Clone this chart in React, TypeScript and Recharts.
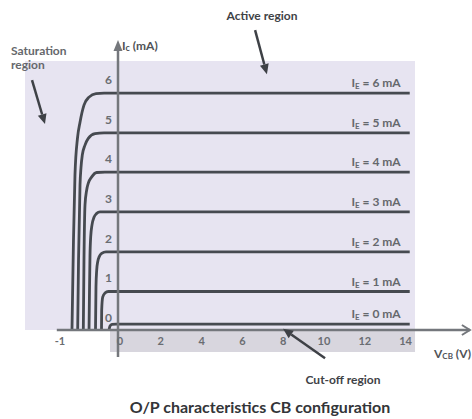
import React from 'react';
import { LineChart, Line, XAxis, YAxis, ReferenceArea, ReferenceLine, LabelList } from 'recharts';

// ---------------- data (volts, mA) ----------------
const X_TICK_VALUES = [-1, 0, 2, 4, 6, 8, 10, 12, 14];
const Y_TICK_VALUES = [0, 1, 2, 3, 4, 5, 6];

const V_END = 14.3;

const CURVE_IE6_V = [-0.767, -0.742, -0.717, -0.675, -0.633, -0.567, -0.483, -0.367, -0.233, V_END];
const CURVE_IE6_IC = [0, 2.27, 3.91, 4.84, 5.24, 5.67, 5.87, 5.96, 5.97, 5.97];

const CURVE_IE5_V = [-0.672, -0.658, -0.633, -0.617, -0.595, -0.55, -0.495, -0.383, -0.233, V_END];
const CURVE_IE5_IC = [0, 1.76, 3.66, 4.09, 4.41, 4.66, 4.83, 4.95, 4.97, 4.97];

const CURVE_IE4_V = [-0.578, -0.567, -0.55, -0.522, -0.495, -0.438, -0.355, -0.217, V_END];
const CURVE_IE4_IC = [0, 1.76, 3.15, 3.53, 3.7, 3.86, 3.97, 3.98, 3.98];

const CURVE_IE3_V = [-0.483, -0.475, -0.467, -0.455, -0.433, -0.4, -0.355, -0.3, V_END];
const CURVE_IE3_IC = [0, 1.01, 1.85, 2.35, 2.65, 2.84, 2.94, 2.98, 2.98];

const CURVE_IE2_V = [-0.375, -0.367, -0.355, -0.338, -0.312, -0.272, -0.2, V_END];
const CURVE_IE2_IC = [0, 1.09, 1.51, 1.72, 1.85, 1.93, 1.97, 1.97];

const CURVE_IE1_V = [-0.275, -0.272, -0.255, -0.217, -0.162, V_END];
const CURVE_IE1_IC = [0, 0.5, 0.83, 0.93, 0.97, 0.97];

const CURVE_IE0_V = [-0.15, -0.133, -0.1, -0.033, V_END];
const CURVE_IE0_IC = [0, 0.1, 0.14, 0.15, 0.15];

const EMITTER_CURRENTS = [6, 5, 4, 3, 2, 1, 0];

// annotation geometry in data units [V, mA]
const SAT_ARROW = [[-1.433, 6.3], [-1.217, 5.19]];
const ACTIVE_ARROW = [[6.72, 7.56], [7.3, 6.45]];
const CUTOFF_ARROW = [[10.15, -0.71], [8.09, 0.03]];
const BG_V = [-1.55, 14.56];
const BG_I = [0, 6.78];
const BAND_V = [-0.133, 14.56];
const BAND_I = [-0.555, 0];
const Y_AXIS_I = [-0.68, 7.31];
const X_AXIS_V = [-1.02, 17.25];

// ---------------- layout ----------------
const W = 472;
const H = 419;
const PLOT_LEFT = 20;
const PLOT_RIGHT = 472;
const PLOT_TOP = 10;
const PLOT_BOTTOM = 330;
const ORIGIN_X = 118;
const PX_PER_V = 20.4;
const PX_PER_MA = 39.67;
const NEG_STRETCH = 60 / PX_PER_V; // negative side of the V axis is drawn expanded
const U_MIN = (PLOT_LEFT - ORIGIN_X) / PX_PER_V;
const U_MAX = (PLOT_RIGHT - ORIGIN_X) / PX_PER_V;
const I_MAX = (PLOT_BOTTOM - PLOT_TOP) / PX_PER_MA;

const toU = (v: number) => (v < 0 ? v * NEG_STRETCH : v);
const fromU = (u: number) => (u < 0 ? u / NEG_STRETCH : u);

const FONT = "Lato, 'Open Sans', 'DejaVu Sans', sans-serif";
const CURVE_COLOR = '#464a50';
const AXIS_COLOR = '#74777c';
const TEXT_GRAY = '#6a6d72';

type Pt = { u: number; ic: number; tag?: number };

const buildCurve = (vs: number[], ics: number[], ie: number): Pt[] =>
  vs.map((v, k) => ({ u: toU(v), ic: ics[k], tag: k === vs.length - 1 ? ie : undefined }));

const CURVES: Pt[][] = [
  buildCurve(CURVE_IE6_V, CURVE_IE6_IC, EMITTER_CURRENTS[0]),
  buildCurve(CURVE_IE5_V, CURVE_IE5_IC, EMITTER_CURRENTS[1]),
  buildCurve(CURVE_IE4_V, CURVE_IE4_IC, EMITTER_CURRENTS[2]),
  buildCurve(CURVE_IE3_V, CURVE_IE3_IC, EMITTER_CURRENTS[3]),
  buildCurve(CURVE_IE2_V, CURVE_IE2_IC, EMITTER_CURRENTS[4]),
  buildCurve(CURVE_IE1_V, CURVE_IE1_IC, EMITTER_CURRENTS[5]),
  buildCurve(CURVE_IE0_V, CURVE_IE0_IC, EMITTER_CURRENTS[6]),
];

const seg = (pts: number[][]) => pts.map(([v, i]) => ({ x: toU(v), y: i }));

const makeArrow = (color: string, width: number, open: boolean, len: number, half: number) => (p: any) => {
  const x1 = Number(p.x1), y1 = Number(p.y1), x2 = Number(p.x2), y2 = Number(p.y2);
  const a = Math.atan2(y2 - y1, x2 - x1);
  const bx = x2 - len * Math.cos(a);
  const by = y2 - len * Math.sin(a);
  const lx = bx + half * Math.sin(a);
  const ly = by - half * Math.cos(a);
  const rx = bx - half * Math.sin(a);
  const ry = by + half * Math.cos(a);
  return (
    <g>
      <line x1={x1} y1={y1} x2={open ? x2 : bx} y2={open ? y2 : by} stroke={color} strokeWidth={width} />
      {open ? (
        <polyline points={`${lx},${ly} ${x2},${y2} ${rx},${ry}`} fill="none" stroke={color} strokeWidth={2} />
      ) : (
        <polygon points={`${lx},${ly} ${x2},${y2} ${rx},${ry}`} fill={color} stroke="none" />
      )}
    </g>
  );
};

const XTick = (props: any) => {
  const { x, y, payload } = props;
  const v = Math.round(fromU(Number(payload.value)));
  return (
    <text x={Number(x) + 2} y={Number(y) + 15} textAnchor="middle" fontSize={11} fontWeight={700} fill={TEXT_GRAY} fontFamily={FONT}>
      {v}
    </text>
  );
};

const YTick = (props: any) => {
  const { y, payload } = props;
  return (
    <text x={ORIGIN_X - 6} y={Number(y) - 8} textAnchor="end" fontSize={12} fontWeight={700} fill={TEXT_GRAY} fontFamily={FONT}>
      {payload.value}
    </text>
  );
};

const EndLabel = (props: any) => {
  const { value } = props;
  if (value === undefined || value === null || value === '') return null;
  const vb = props.viewBox || {};
  const x = Number(vb.x ?? props.x);
  const y = Number(vb.y ?? props.y);
  return (
    <text x={x - 9} y={y - 6} textAnchor="end" fontSize={12} fontWeight={700} fill="#65686d" fontFamily={FONT}>
      I<tspan fontSize={8} dy={2}>E</tspan>
      <tspan dy={-2}>{` = ${value} mA`}</tspan>
    </text>
  );
};

export default function App() {
  return (
    <div style={{ position: 'absolute', left: 0, top: 0, width: W, height: H, background: '#ffffff' }}>
      <LineChart
        width={W}
        height={H}
        margin={{ top: PLOT_TOP, right: W - PLOT_RIGHT, left: PLOT_LEFT - 1, bottom: H - PLOT_BOTTOM - 30 }}
      >
        <ReferenceArea
          x1={toU(BG_V[0])}
          x2={toU(BG_V[1])}
          y1={BG_I[0]}
          y2={BG_I[1]}
          fill="#e7e4f1"
          fillOpacity={1}
          stroke="none"
          ifOverflow="visible"
        />
        <ReferenceArea
          x1={toU(BAND_V[0])}
          x2={toU(BAND_V[1])}
          y1={BAND_I[0]}
          y2={BAND_I[1]}
          fill="#d8d6de"
          fillOpacity={1}
          stroke="none"
          ifOverflow="visible"
        />
        <XAxis
          type="number"
          dataKey="u"
          domain={[U_MIN, U_MAX]}
          allowDataOverflow
          ticks={X_TICK_VALUES.map(toU)}
          interval={0}
          tick={<XTick />}
          tickLine={false}
          axisLine={false}
          tickSize={0}
          tickMargin={0}
          height={30}
        />
        <YAxis
          type="number"
          dataKey="ic"
          domain={[0, I_MAX]}
          allowDataOverflow
          ticks={Y_TICK_VALUES}
          interval={0}
          tick={<YTick />}
          tickLine={false}
          axisLine={false}
          tickSize={0}
          tickMargin={0}
          width={1}
        />
        {CURVES.map((c, k) => (
          <Line
            key={k}
            data={c}
            dataKey="ic"
            type="monotone"
            stroke={CURVE_COLOR}
            strokeWidth={2.8}
            dot={false}
            activeDot={false}
            isAnimationActive={false}
          >
            <LabelList dataKey="tag" content={<EndLabel />} />
          </Line>
        ))}
        <ReferenceLine
          segment={[{ x: 0, y: Y_AXIS_I[0] }, { x: 0, y: Y_AXIS_I[1] }]}
          ifOverflow="visible"
          shape={makeArrow(AXIS_COLOR, 2.5, false, 11, 4.5)}
        />
        <ReferenceLine
          segment={seg([[X_AXIS_V[0], 0], [X_AXIS_V[1], 0]])}
          ifOverflow="visible"
          shape={makeArrow(AXIS_COLOR, 2.5, true, 8, 5)}
        />
        <ReferenceLine segment={seg(SAT_ARROW)} ifOverflow="visible" shape={makeArrow('#3e4146', 2.5, false, 10, 4.5)} />
        <ReferenceLine segment={seg(ACTIVE_ARROW)} ifOverflow="visible" shape={makeArrow('#3e4146', 2.5, false, 10, 4.5)} />
        <ReferenceLine segment={seg(CUTOFF_ARROW)} ifOverflow="visible" shape={makeArrow('#3e4146', 2.5, false, 10, 4.5)} />
      </LineChart>
      <svg
        width={W}
        height={H}
        style={{ position: 'absolute', left: 0, top: 0, pointerEvents: 'none' }}
        fontFamily={FONT}
        fontWeight={700}
      >
        <text x={262} y={20} textAnchor="middle" fontSize={12} fill="#404246">Active region</text>
        <text x={11} y={55} fontSize={12} fill="#66686c">Saturation</text>
        <text x={11} y={69} fontSize={12} fill="#66686c">region</text>
        <text x={343} y={384} textAnchor="middle" fontSize={12} fill="#404246">Cut-off region</text>
        <text x={122} y={50} fontSize={12} fill="#505357">
          I<tspan fontSize={9} dy={1}>c</tspan>
          <tspan dy={-1}> (mA)</tspan>
        </text>
        <text x={434} y={358} fontSize={12} fill="#505357">
          V<tspan fontSize={8} dy={1}>CB</tspan>
          <tspan dy={-1}> (V)</tspan>
        </text>
        <text x={260} y={413} textAnchor="middle" fontSize={16} fill="#333538">
          O/P characteristics CB configuration
        </text>
      </svg>
    </div>
  );
}
